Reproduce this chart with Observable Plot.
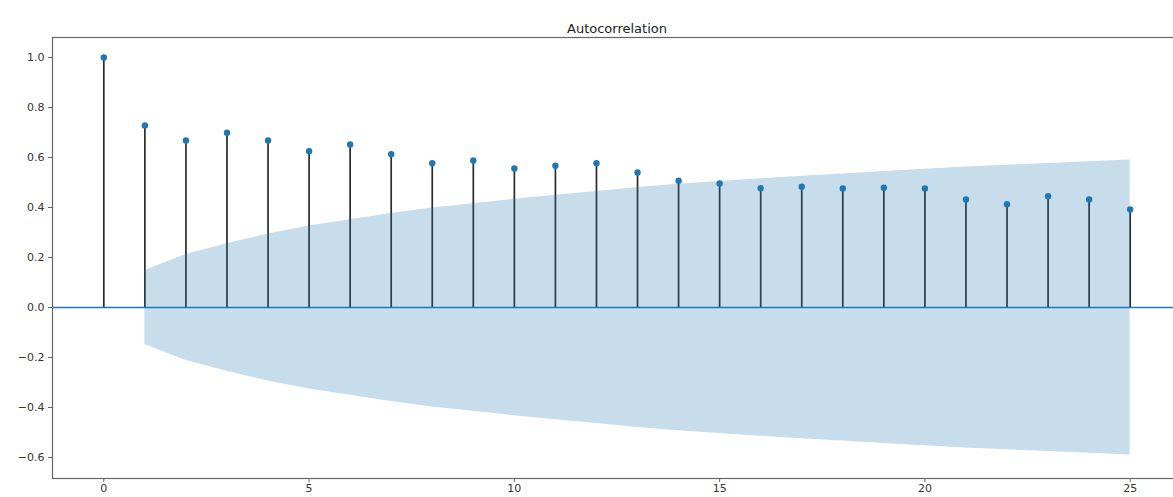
<!DOCTYPE html>
<html>
<head>
<meta charset="utf-8">
<script src="https://cdn.jsdelivr.net/npm/d3@7"></script>
<script src="https://cdn.jsdelivr.net/npm/@observablehq/plot@0.6"></script>
<style>
  html, body { margin: 0; padding: 0; background: #fff; overflow: hidden; }
  #chart svg { overflow: hidden; }
</style>
</head>
<body>
<div id="chart"></div>
<script>
// Sample autocorrelation by lag
const lags = [0, 1, 2, 3, 4, 5, 6, 7, 8, 9, 10, 11, 12, 13, 14, 15, 16, 17, 18, 19, 20, 21, 22, 23, 24, 25];
const acfValues = [1.0, 0.728, 0.668, 0.699, 0.668, 0.625, 0.652, 0.613, 0.577, 0.588, 0.556, 0.567, 0.577,
                   0.540, 0.507, 0.496, 0.477, 0.483, 0.476, 0.479, 0.476, 0.432, 0.413, 0.445, 0.432, 0.392];

// 95% confidence band (Bartlett), lags 1..25
const confLags = [1, 2, 3, 4, 5, 6, 7, 8, 9, 10, 11, 12, 13, 14, 15, 16, 17, 18, 19, 20, 21, 22, 23, 24, 25];
const confUpper = [0.148, 0.212, 0.255, 0.294, 0.326, 0.351, 0.376, 0.398, 0.415, 0.433, 0.449, 0.464, 0.480,
                   0.493, 0.504, 0.515, 0.525, 0.534, 0.544, 0.553, 0.562, 0.569, 0.576, 0.583, 0.590];
const confLower = [-0.148, -0.212, -0.255, -0.294, -0.326, -0.351, -0.376, -0.398, -0.415, -0.433, -0.449, -0.464, -0.480,
                   -0.493, -0.504, -0.515, -0.525, -0.534, -0.544, -0.553, -0.562, -0.569, -0.576, -0.583, -0.590];

const xTicks = [0, 5, 10, 15, 20, 25];
const yTicks = [-0.6, -0.4, -0.2, 0.0, 0.2, 0.4, 0.6, 0.8, 1.0];
const title = "Autocorrelation";

const acf = lags.map((lag, i) => ({lag, value: acfValues[i]}));
const band = confLags.map((lag, i) => ({lag, lo: confLower[i], hi: confUpper[i]}));

const blue = "#1f77b4";

const chart = Plot.plot({
  width: 1173,
  height: 497,
  marginTop: 37,
  marginBottom: 19,
  marginLeft: 52,
  marginRight: -8,
  style: {fontFamily: "'DejaVu Sans', sans-serif", fontSize: "11px", color: "#333", background: "#fff"},
  x: {domain: [-1.25, 26.25]},
  y: {domain: [-0.684, 1.08]},
  marks: [
    Plot.ruleX(acf, {x: "lag", y1: 0, y2: "value", stroke: "#2b2b2b", strokeWidth: 1.7}),
    Plot.ruleY([0], {stroke: blue, strokeWidth: 1.5}),
    Plot.dot(acf, {x: "lag", y: "value", r: 3.2, fill: blue, stroke: "none"}),
    Plot.areaY(band, {x: "lag", y1: "lo", y2: "hi", fill: blue, fillOpacity: 0.25}),
    Plot.frame({stroke: "#666", strokeWidth: 1.2}),
    Plot.axisY({ticks: yTicks, tickFormat: d3.format(".1f"), tickSize: 4, tickPadding: 4, label: null, stroke: "#666"}),
    Plot.axisX({ticks: xTicks, tickFormat: d3.format("d"), tickSize: 4, tickPadding: 2, label: null, stroke: "#666"}),
    Plot.text([title], {frameAnchor: "top", dy: -14, fontSize: 13, fill: "#222"})
  ]
});

document.getElementById("chart").appendChild(chart);
</script>
</body>
</html>
